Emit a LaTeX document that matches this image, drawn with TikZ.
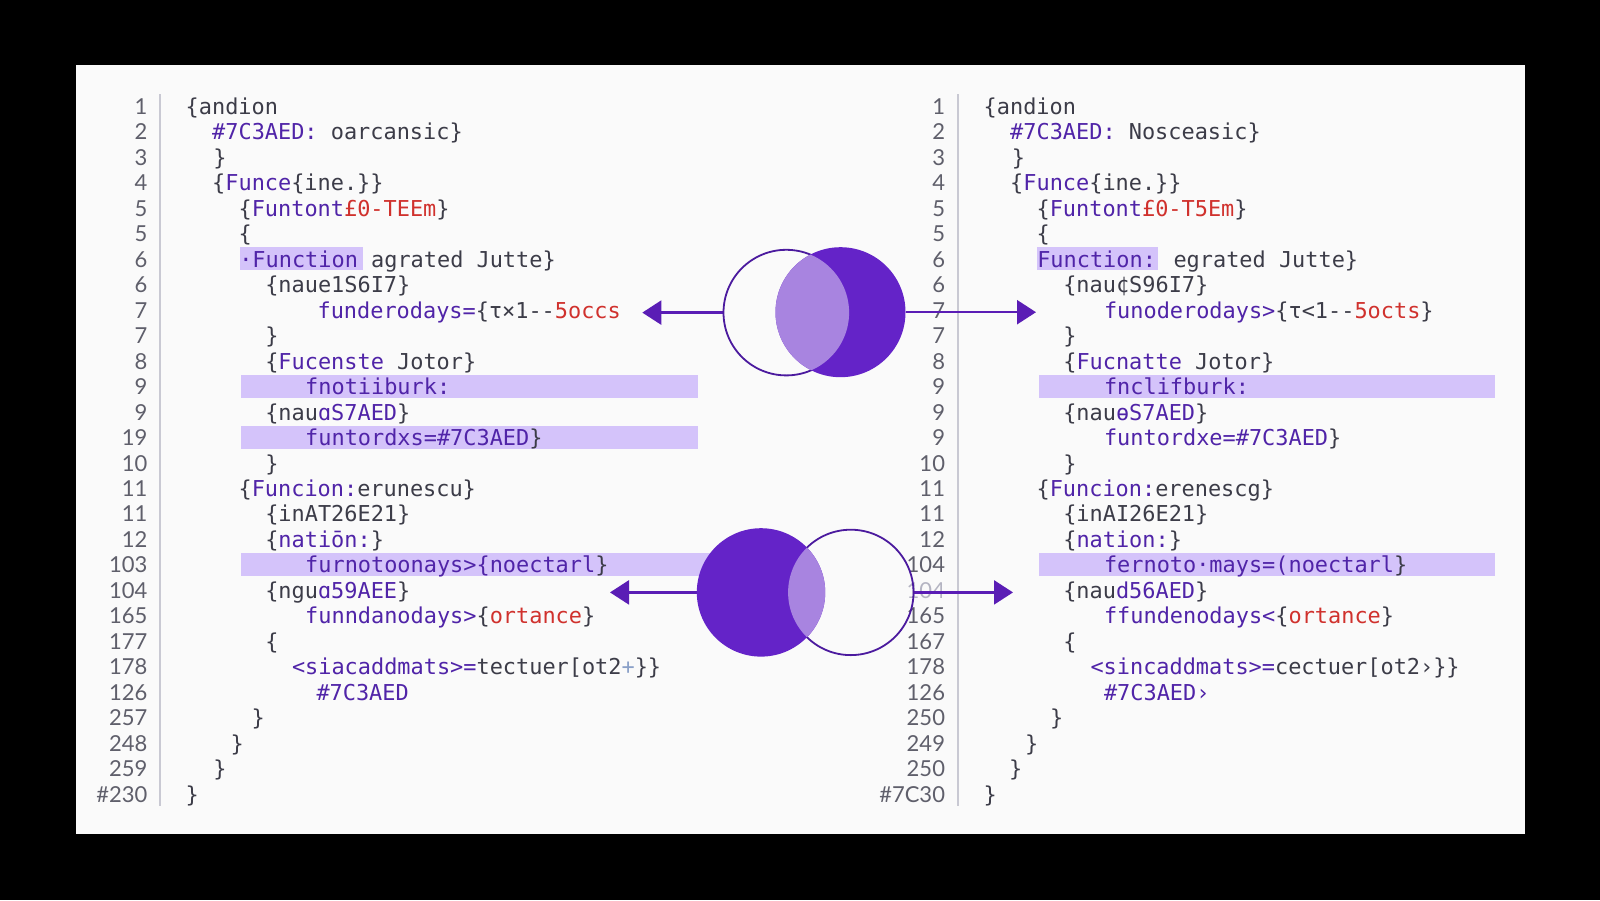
\documentclass[tikz,border=0pt]{standalone}
\usepackage{fontspec}
\newfontfamily\codefont{DejaVu Sans Mono}
\newfontfamily\numfont{Lato}
\usetikzlibrary{arrows.meta}
\definecolor{cgray}{HTML}{3C3C48}
\definecolor{numgray}{HTML}{5F5F6B}
\definecolor{numfade}{HTML}{B4B4C2}
\definecolor{cpurple}{HTML}{5024A8}
\definecolor{cred}{HTML}{D0312D}
\definecolor{clblue}{HTML}{8AA0C8}
\definecolor{hl}{HTML}{D4C3FA}
\definecolor{sepc}{HTML}{C9C9D3}
\definecolor{panelc}{HTML}{FAFAFA}
\definecolor{fillc}{HTML}{6423C8}
\definecolor{overc}{HTML}{A884E0}
\definecolor{ringc}{HTML}{4B1A9E}
\definecolor{arrc}{HTML}{5A1DB5}
\newcommand{\cpu}[1]{\textcolor{cpurple}{#1}}
\newcommand{\crd}[1]{\textcolor{cred}{#1}}
\newcommand{\clb}[1]{\textcolor{clblue}{#1}}
\newcommand{\cfnt}{\codefont\fontsize{21.9}{26}\selectfont}
\newcommand{\nfnt}{\numfont\fontsize{22}{26}\selectfont}
\tikzset{
  code/.style={anchor=base west, inner sep=0pt, outer sep=0pt, font=\cfnt, text=cgray},
  lnum/.style={anchor=base east, inner sep=0pt, outer sep=0pt, font=\nfnt, text=numgray},
  hlbar/.style={fill=hl},
  sepline/.style={draw=sepc, line width=1.5pt},
  arr/.style={draw=arrc, line width=2.4pt, -{Triangle[length=19pt,width=24pt]}},
  ringline/.style={draw=ringc, line width=1.8pt},
  anchorcircle/.style={circle, inner sep=0pt, outer sep=0pt}
}
\begin{document}
\begin{tikzpicture}[x=1pt,y=-1pt]
\useasboundingbox (0,0) rectangle (1600,900);
\fill[black] (0,0) rectangle (1600,900);
\fill[panelc] (75.5,65.3) rectangle (1524.5,833.7);
% separators
\draw[sepline] (160,94) -- (160,806);
\draw[sepline] (958,94) -- (958,806);
% highlight bars
\fill[hlbar] (240.4,247.2) rectangle (362.9,270.2);
\fill[hlbar] (240.6,374.6) rectangle (698,397.6);
\fill[hlbar] (240.6,425.5) rectangle (698,448.5);
\fill[hlbar] (240.6,552.9) rectangle (715,575.9);
\fill[hlbar] (1037,247.2) rectangle (1158,270.2);
\fill[hlbar] (1038.7,374.6) rectangle (1495,397.6);
\fill[hlbar] (1038.7,552.9) rectangle (1495,575.9);
% line numbers
\foreach \n [count=\i] in {1,2,3,4,5,5,6,6,7,7,8,9,9,19,10,11,11,12,103,104,165,177,178,126,257,248,259,\#230}
  \node[lnum] (lnL\i) at (147.5,{114.3+25.48*(\i-1)}) {\n};
\foreach \n [count=\i] in {1,2,3,4,5,5,6,6,7,7,8,9,9,9,10,11,11,12,104,104,165,167,178,126,250,249,250,\#7C30}
  \node[lnum] (lnR\i) at (945,{114.3+25.48*(\i-1)}) {\ifnum\i=20 \color{numfade}\fi\n};
% left code
\node[code] (cL1) at (185.7,114.30) {\{andion};
\node[code] (cL2) at (212.2,139.78) {\cpu{\#7C3AED:} oarcansic\}};
\node[code] (cL3) at (213.4,165.26) {\}};
\node[code] (cL4) at (212.2,190.74) {\{\cpu{Funce}\{ine.\}\}};
\node[code] (cL5) at (238.6,216.22) {\{\cpu{Funtont}\crd{£0-TEEm}\}};
\node[code] (cL6) at (238.6,241.70) {\{};
\node[code] (cL7) at (239.3,267.18) {\cpu{·Function} agrated Jutte\}};
\node[code] (cL8) at (265.3,292.66) {\{naue1S6I7\}};
\node[code] (cL9) at (317.6,318.14) {\cpu{funderodays=}\{τ×1-{}-\crd{5occs}};
\node[code] (cL10) at (265.3,343.62) {\}};
\node[code] (cL11) at (265.3,369.10) {\{\cpu{Fucenste} Jotor\}};
\node[code] (cL12) at (305.2,394.58) {\cpu{fnotiiburk:}};
\node[code] (cL13) at (265.3,420.06) {\{nau\cpu{ɑS7AED}\}};
\node[code] (cL14) at (305.2,445.54) {\cpu{funtordxs=\#7C3AED}\}};
\node[code] (cL15) at (265.3,471.02) {\}};
\node[code] (cL16) at (238.6,496.50) {\{\cpu{Funcion:}erunescu\}};
\node[code] (cL17) at (265.3,521.98) {\{inAT26E21\}};
\node[code] (cL18) at (265.3,547.46) {\{\cpu{natiōn:}\}};
\node[code] (cL19) at (305.2,572.94) {\cpu{furnotoonays>\{noectarl}\}};
\node[code] (cL20) at (265.3,598.42) {\{ngu\cpu{ɑ59AEE}\}};
\node[code] (cL21) at (305.2,623.90) {\cpu{funndanodays>}\{\crd{ortance}\}};
\node[code] (cL22) at (265.3,649.38) {\{};
\node[code] (cL23) at (292.0,674.86) {\cpu{<siacaddmats>=}tectuer[ot2\clb{+}\}\}};
\node[code] (cL24) at (316.5,700.34) {\cpu{\#7C3AED}};
\node[code] (cL25) at (251.6,725.82) {\}};
\node[code] (cL26) at (230.5,751.30) {\}};
\node[code] (cL27) at (213.4,776.78) {\}};
\node[code] (cL28) at (185.7,802.26) {\}};
% right code
\node[code] (cR1) at (983.7,114.30) {\{andion};
\node[code] (cR2) at (1010.2,139.78) {\cpu{\#7C3AED:} Nosceasic\}};
\node[code] (cR3) at (1011.8,165.26) {\}};
\node[code] (cR4) at (1010.2,190.74) {\{\cpu{Funce}\{ine.\}\}};
\node[code] (cR5) at (1036.6,216.22) {\{\cpu{Funtont}\crd{£0-T5Em}\}};
\node[code] (cR6) at (1036.6,241.70) {\{};
\node[code] (cR7) at (1037.3,267.18) {\cpu{Function:} egrated Jutte\}};
\node[code] (cR8) at (1063.3,292.66) {\{nau¢S96I7\}};
\node[code] (cR9) at (1104,318.14) {\cpu{funoderodays>}\{τ<1-{}-\crd{5octs}\}};
\node[code] (cR10) at (1063.3,343.62) {\}};
\node[code] (cR11) at (1063.3,369.10) {\{\cpu{Fucnatte} Jotor\}};
\node[code] (cR12) at (1104,394.58) {\cpu{fnclifburk:}};
\node[code] (cR13) at (1063.3,420.06) {\{nau\cpu{ɵS7AED}\}};
\node[code] (cR14) at (1104,445.54) {\cpu{funtordxe=\#7C3AED}\}};
\node[code] (cR15) at (1063.3,471.02) {\}};
\node[code] (cR16) at (1036.6,496.50) {\{\cpu{Funcion:}erenescg\}};
\node[code] (cR17) at (1063.3,521.98) {\{inAI26E21\}};
\node[code] (cR18) at (1063.3,547.46) {\{\cpu{nation:}\}};
\node[code] (cR19) at (1104,572.94) {\cpu{fernoto·mays=(noectarl}\}};
\node[code] (cR20) at (1063.3,598.42) {\{nau\cpu{d56AED}\}};
\node[code] (cR21) at (1104,623.90) {\cpu{ffundenodays<}\{\crd{ortance}\}};
\node[code] (cR22) at (1063.3,649.38) {\{};
\node[code] (cR23) at (1090.5,674.86) {\cpu{<sincaddmats>=}cectuer[ot2›\}\}};
\node[code] (cR24) at (1104,700.34) {\cpu{\#7C3AED›}};
\node[code] (cR25) at (1050.2,725.82) {\}};
\node[code] (cR26) at (1025.2,751.30) {\}};
\node[code] (cR27) at (1009.2,776.78) {\}};
\node[code] (cR28) at (983.7,802.26) {\}};
% circle anchors
\node[anchorcircle, minimum size=125.6pt] (O1) at (786.3,312.6) {};
\node[anchorcircle, minimum size=130pt] (F1) at (840.5,312.2) {};
\node[anchorcircle, minimum size=128.4pt] (F2) at (761,592.4) {};
\node[anchorcircle, minimum size=125.4pt] (O2) at (850.8,592.4) {};
\coordinate (tTL) at (642.3,312.6);
\coordinate (tTR) at (1036,312.2);
\coordinate (tBL) at (610,592.4);
\coordinate (tBR) at (1013,592.4);
% arrows
\draw[arr] (O1.west) -- (tTL);
\draw[arr] (F1.east) -- (tTR);
\draw[arr] (F2.west) -- (tBL);
\draw[arr] (O2.east) -- (tBR);
% top pair
\draw[ringline] (O1.center) circle[radius=62.8];
\fill[fillc] (F1.center) circle[radius=65];
\begin{scope}
  \clip (O1.center) circle[radius=62.8];
  \fill[overc] (F1.center) circle[radius=65];
\end{scope}
% bottom pair
\draw[ringline] (O2.center) circle[radius=62.7];
\fill[fillc] (F2.center) circle[radius=64.2];
\begin{scope}
  \clip (O2.center) circle[radius=62.7];
  \fill[overc] (F2.center) circle[radius=64.2];
\end{scope}
\end{tikzpicture}
\end{document}
